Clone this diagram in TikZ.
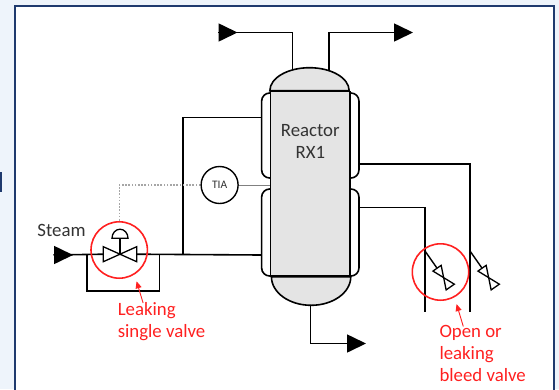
\documentclass[tikz,border=0pt]{standalone}
\usepackage{fontspec}
\setmainfont{Carlito}
\usetikzlibrary{arrows.meta,positioning}

\definecolor{frameblue}{HTML}{1F3A6E}
\definecolor{paleblue}{HTML}{EEF4FB}
\definecolor{vesselgray}{HTML}{E4E4E4}
\definecolor{textgray}{HTML}{333333}
\definecolor{markred}{HTML}{FF2020}

\tikzset{
    pipe/.style={line width=1.6bp, black},
    jacket/.style={line width=1.6bp, rounded corners=8bp},
    flow/.style={pipe, -{Triangle[length=19bp, width=18bp]}},
    signal/.style={line width=0.9bp, gray},
    ctrl/.style={line width=1.1bp, gray!70, dash pattern=on 1.6bp off 1.6bp},
    vessel/.style={draw, line width=1.6bp, fill=vesselgray, minimum width=79.3bp, minimum height=184.5bp, inner sep=0pt},
    tag/.style={text=textgray, font=\fontsize{18.8bp}{22bp}\selectfont, inner sep=0pt, align=center},
    ring/.style={circle, draw=markred, line width=1.6bp, minimum size=56.4bp, inner sep=0pt},
    note/.style={text=markred, font=\fontsize{18.8bp}{22bp}\selectfont, inner sep=0pt, align=left},
    notearrow/.style={markred, line width=0.9bp, -{Triangle[length=7bp, width=6bp]}},
    ctrlvalve/.pic={
        \draw[line width=1.3bp, fill=white] (-16.7,-7.5) -- (-16.7,7.5) -- (16.7,-7.5) -- (16.7,7.5) -- cycle;
        \draw[line width=1.3bp] (0,0) -- (0,-16);
        \draw[line width=1.3bp] (-8,-16) arc[start angle=180, end angle=360, x radius=8, y radius=9] -- cycle;
        \coordinate (-in) at (-16.7,0);
        \coordinate (-out) at (16.7,0);
    },
    bleedvalve/.pic={
        \draw[line width=1.3bp, fill=white] (-11.5,-5) -- (-11.5,5) -- (11.5,-5) -- (11.5,5) -- cycle;
        \coordinate (-in) at (-11.5,0);
    }
}

\begin{document}
\begin{tikzpicture}[x=1bp, y=-1bp]
    \useasboundingbox (0,0) rectangle (559,389);
    \clip (0,0) rectangle (559,389);
    \fill[paleblue] (0,0) rectangle (559,389);
    \draw[frameblue, line width=2bp, fill=white] (14.8,5.8) rectangle (554.3,400);
    \fill[frameblue] (0,172) rectangle (2.2,192);

    \coordinate (steam in) at (53.5,255);
    \coordinate (tee) at (183,255);
    \coordinate (bypass a) at (86.7,255);
    \coordinate (bypass b) at (159.3,255);
    \coordinate (jacket lu) at (261.7,117.3);
    \coordinate (jacket ll) at (261.7,255);
    \coordinate (jacket ru) at (360,164);
    \coordinate (jacket rl) at (360,207.3);
    \coordinate (top l) at (292.5,71);
    \coordinate (top r) at (328.7,71);
    \coordinate (bottom) at (310.3,304.5);
    \coordinate (in a) at (218,32.5);
    \coordinate (out b) at (413,32.5);
    \coordinate (out c) at (366,343.5);
    \coordinate (drain a) at (425,311.7);
    \coordinate (drain b) at (470,311.7);
    \coordinate (branch a) at (425,251);
    \coordinate (branch b) at (470,251);

    \pic (steam valve) at (120,254.2) {ctrlvalve};
    \path (branch a) ++(55:32.5) pic[rotate=-55] (bleed a) {bleedvalve};
    \path (branch b) ++(55:32.5) pic[rotate=-55] (bleed b) {bleedvalve};

    \draw[pipe] (steam in) -- (steam valve-in);
    \draw[pipe] (steam valve-out) -- (jacket ll);
    \draw[pipe] (bypass a) -- ++(0,36) -| (bypass b);
    \draw[flow] (steam in) -- ++(19.5,0);
    \draw[pipe] (jacket lu) -| (tee);
    \draw[pipe] (top l) |- (in a);
    \draw[flow] (in a) -- ++(19.5,0);
    \draw[flow] (top r) |- (out b);
    \draw[flow] (bottom) |- (out c);
    \draw[pipe] (jacket ru) -| (drain b);
    \draw[pipe] (jacket rl) -| (drain a);
    \draw[line width=1.4bp] (branch a) -- (bleed a-in);
    \draw[line width=1.4bp] (branch b) -- (bleed b-in);

    \foreach \side/\ytop/\ybot in {-1/93/178, -1/189/276, 1/93/178, 1/189/276}
        \draw[jacket] ({310.3+\side*39.65},\ytop) -- ++({\side*9},0) -- ++(0,{\ybot-\ytop}) -- ++({-\side*9},0);

    \node[vessel] (rx) at (310.3,183.75) {};
    \draw[line width=1.6bp, fill=vesselgray] (rx.north west) arc[start angle=180, end angle=360, x radius=39.65, y radius=23] -- cycle;
    \draw[line width=1.6bp, fill=vesselgray] (rx.south east) arc[start angle=0, end angle=180, x radius=39.65, y radius=28.5] -- cycle;
    \node[tag] (rx name) at (310.3,141.2) {Reactor\\RX1};

    \node[circle, draw, line width=1.4bp, minimum size=37bp, inner sep=0pt, text=textgray, font=\fontsize{11.5bp}{13bp}\selectfont] (tia) at (219.6,185) {TIA};
    \draw[signal] (tia.east) -- (tia.east -| rx.west);

    \node[tag, anchor=base west] (steam) at (37.3,236.7) {Steam};

    \node[ring] (ring l) at (119.2,250) {};
    \node[ring] (ring r) at (440.5,272) {};
    \draw[ctrl] (tia.west) -| (ring l.north);

    \node[note, anchor=north west] (leak note) at (117.6,302.5) {Leaking\\single valve};
    \node[note, anchor=north west] (bleed note) at (439.3,325) {Open or\\leaking\\bleed valve};
    \draw[notearrow, shorten >=7bp] ([shift={(25.5,0.5)}]leak note.north west) -- (ring l.-58.5);
    \draw[notearrow, shorten >=7bp] ([shift={(24,1.5)}]bleed note.north west) -- (ring r.-61);
\end{tikzpicture}
\end{document}
